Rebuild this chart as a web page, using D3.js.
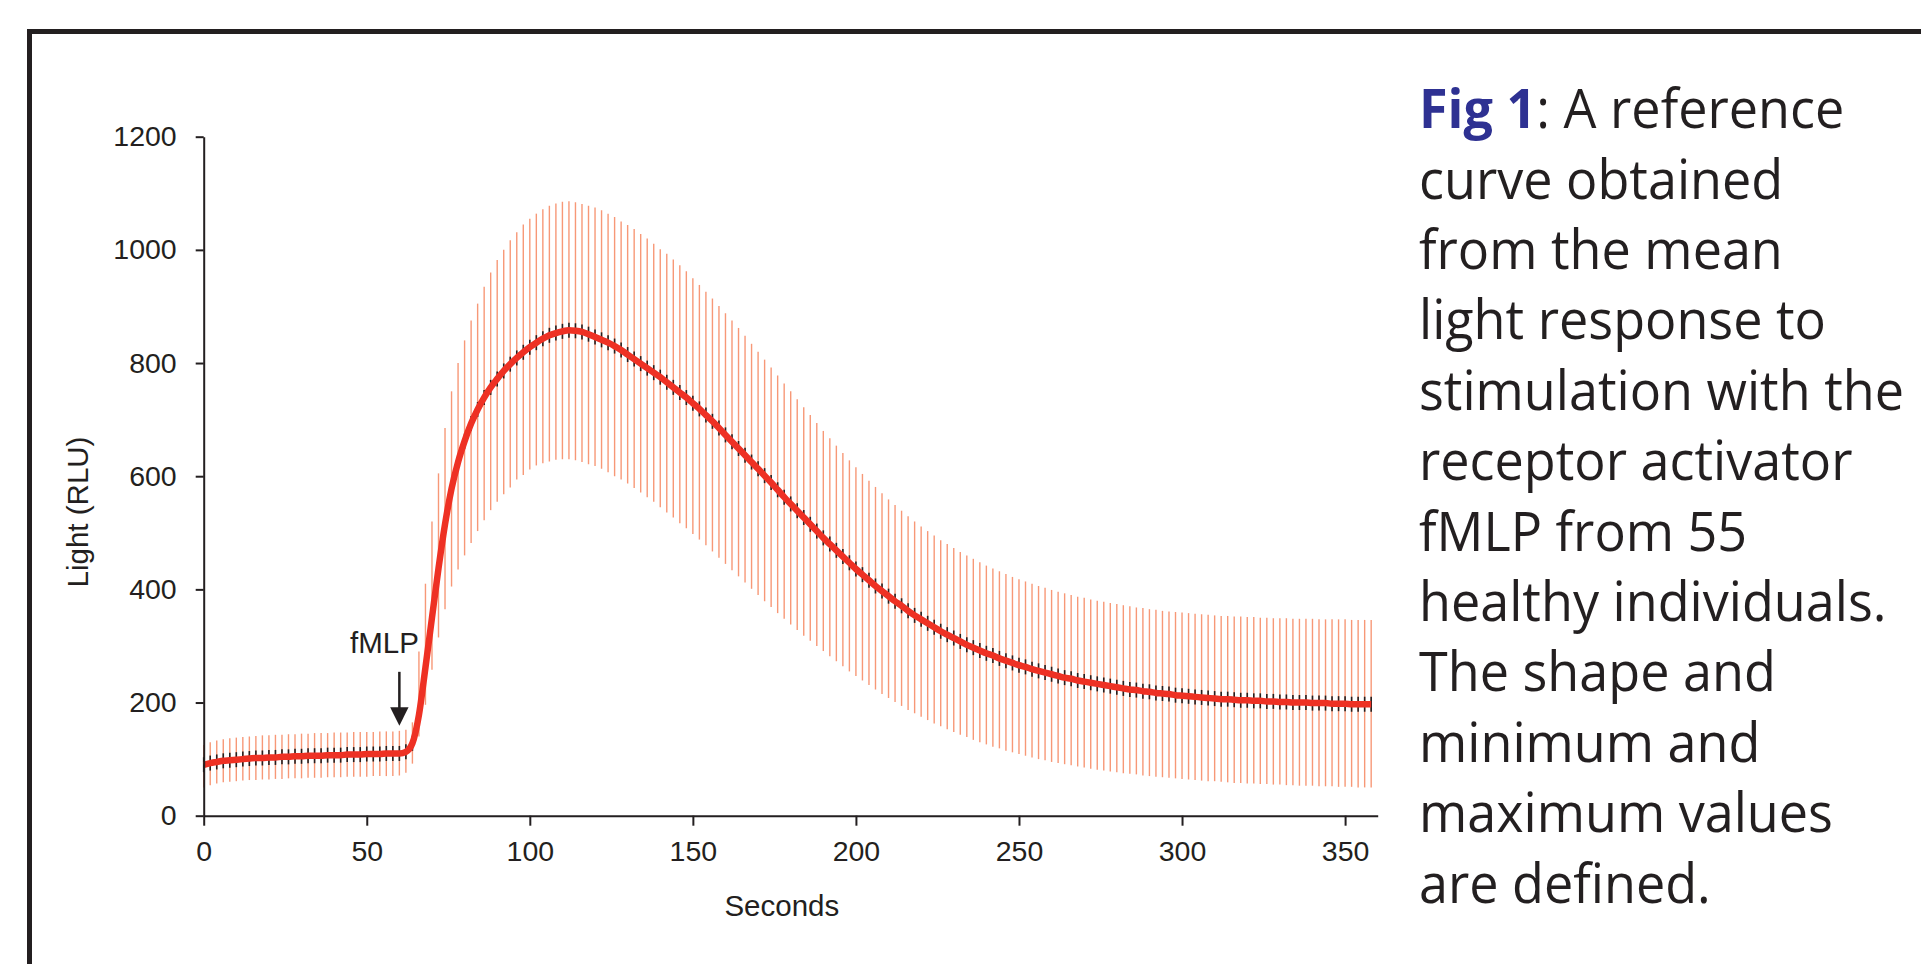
<!DOCTYPE html>
<html>
<head>
<meta charset="utf-8">
<script src="https://cdn.jsdelivr.net/npm/d3@7"></script>
<style>
  html, body { margin: 0; padding: 0; background: #fff; overflow: hidden; }
  #chart svg { display: block; }
  .axis text { font-family: "Liberation Sans", Arial, sans-serif; font-size: 28.5px; fill: #231f20; }
  .axis path, .axis line { stroke: #231f20; stroke-width: 2; }
  .title { font-family: "Liberation Sans", Arial, sans-serif; font-size: 29.5px; fill: #231f20; }
  .caption text { font-family: "Open Sans", "Noto Sans", sans-serif; font-size: 54.6px; fill: #231f20; }
</style>
</head>
<body>
<div id="chart"></div>
<script>
// sample times (s), one bar every 2 s
const timeSec = [
  0, 2, 4, 6, 8, 10, 12, 14, 16, 18, 20, 22, 24, 26, 28, 30, 32, 34, 36, 38,
  40, 42, 44, 46, 48, 50, 52, 54, 56, 58, 60, 62, 64, 66, 68, 70, 72, 74, 76, 78,
  80, 82, 84, 86, 88, 90, 92, 94, 96, 98, 100, 102, 104, 106, 108, 110, 112, 114, 116, 118,
  120, 122, 124, 126, 128, 130, 132, 134, 136, 138, 140, 142, 144, 146, 148, 150, 152, 154, 156, 158,
  160, 162, 164, 166, 168, 170, 172, 174, 176, 178, 180, 182, 184, 186, 188, 190, 192, 194, 196, 198,
  200, 202, 204, 206, 208, 210, 212, 214, 216, 218, 220, 222, 224, 226, 228, 230, 232, 234, 236, 238,
  240, 242, 244, 246, 248, 250, 252, 254, 256, 258, 260, 262, 264, 266, 268, 270, 272, 274, 276, 278,
  280, 282, 284, 286, 288, 290, 292, 294, 296, 298, 300, 302, 304, 306, 308, 310, 312, 314, 316, 318,
  320, 322, 324, 326, 328, 330, 332, 334, 336, 338, 340, 342, 344, 346, 348, 350, 352, 354, 356, 358
];

// mean light (RLU)
const meanRLU = [
  90, 93, 95, 97, 98, 99, 100, 101, 102, 102, 103, 103, 104, 104, 105, 105, 106, 106, 106, 107,
  107, 107, 108, 108, 108, 109, 109, 109, 110, 110, 110, 113, 128, 178, 262, 350, 437, 515, 578, 625,
  662, 693, 718, 739, 757, 772, 786, 798, 809, 819, 828, 836, 843, 849, 853, 856, 858, 857, 855, 851,
  846, 841, 836, 830, 823, 815, 807, 799, 791, 783, 775, 766, 757, 748, 739, 729, 719, 708, 697, 685,
  673, 661, 649, 637, 625, 613, 601, 589, 576, 563, 551, 539, 527, 515, 503, 491, 480, 469, 458, 447,
  436, 426, 416, 406, 397, 388, 379, 371, 362, 354, 347, 340, 333, 326, 320, 314, 308, 302, 297, 292,
  287, 283, 278, 274, 270, 266, 263, 259, 256, 253, 250, 247, 244, 242, 239, 237, 235, 233, 231, 229,
  227, 225, 223, 222, 220, 219, 217, 216, 215, 213, 212, 211, 210, 209, 208, 207, 206, 206, 205, 204,
  204, 203, 203, 202, 202, 201, 201, 200, 200, 200, 199, 199, 199, 198, 198, 198, 197, 197, 197, 197
];

// maximum light (RLU)
const maxRLU = [
  125, 130, 133, 135, 137, 138, 139, 140, 141, 142, 142, 143, 143, 144, 144, 145, 145, 146, 146, 146,
  147, 147, 147, 148, 148, 148, 148, 149, 149, 149, 150, 152, 165, 290, 410, 520, 605, 685, 750, 800,
  840, 875, 905, 935, 960, 982, 1000, 1017, 1031, 1045, 1055, 1064, 1072, 1078, 1082, 1085, 1086, 1084, 1081, 1078,
  1075, 1070, 1064, 1058, 1050, 1044, 1037, 1028, 1020, 1011, 1001, 993, 983, 973, 962, 950, 938, 926, 914, 901,
  888, 875, 862, 848, 834, 820, 806, 792, 778, 764, 750, 736, 722, 708, 694, 680, 667, 654, 641, 628,
  616, 604, 592, 581, 570, 559, 549, 539, 529, 520, 511, 503, 495, 487, 480, 473, 466, 460, 454, 448,
  442, 437, 432, 427, 422, 418, 414, 410, 406, 403, 399, 396, 393, 390, 387, 385, 382, 380, 378, 376,
  374, 372, 370, 368, 367, 365, 364, 362, 361, 360, 359, 358, 357, 356, 355, 354, 353, 353, 352, 352,
  351, 351, 350, 350, 349, 349, 349, 348, 348, 348, 348, 347, 347, 347, 347, 347, 346, 346, 346, 346
];

// minimum light (RLU)
const minRLU = [
  50, 54, 57, 59, 60, 61, 62, 63, 63, 64, 64, 65, 65, 66, 66, 66, 67, 67, 67, 68,
  68, 68, 69, 69, 69, 69, 70, 70, 70, 70, 71, 76, 92, 140, 196, 258, 315, 365, 405, 435,
  460, 482, 503, 522, 540, 555, 568, 580, 594, 602, 612, 619, 623, 626, 629, 630, 630, 628, 625, 621,
  618, 613, 607, 600, 594, 587, 579, 571, 563, 555, 545, 536, 527, 517, 508, 498, 488, 478, 467, 456,
  445, 434, 423, 412, 401, 390, 379, 369, 358, 348, 338, 328, 318, 309, 300, 291, 282, 273, 264, 255,
  247, 239, 231, 223, 215, 208, 201, 194, 187, 181, 175, 169, 163, 158, 153, 148, 143, 139, 134, 130,
  126, 122, 119, 115, 112, 109, 106, 103, 100, 98, 95, 93, 91, 89, 87, 85, 83, 81, 80, 78,
  77, 75, 74, 73, 71, 70, 69, 68, 67, 66, 65, 64, 63, 62, 61, 61, 60, 59, 58, 58,
  57, 57, 56, 56, 55, 55, 54, 54, 53, 53, 53, 52, 52, 52, 51, 51, 51, 50, 50, 50
];

const xTicks = [0, 50, 100, 150, 200, 250, 300, 350];
const yTicks = [0, 200, 400, 600, 800, 1000, 1200];
const xDomain = [0, 360];
const yDomain = [0, 1200];

const xTitle = "Seconds";
const yTitle = "Light (RLU)";

// stimulus marker
const stimulusLabel = "fMLP";
const stimulusTime = 60;

// caption
const captionLead = "Fig 1";
const captionLines = [
  ": A reference",
  "curve obtained",
  "from the mean",
  "light response to",
  "stimulation with the",
  "receptor activator",
  "fMLP from 55",
  "healthy individuals.",
  "The shape and",
  "minimum and",
  "maximum values",
  "are defined."
];

class ReferenceCurve {
  constructor(_parentNodeId) {
    this.container = d3.select(`#${_parentNodeId}`);
    this.data = timeSec.map((t, i) => ({
      t,
      mean: meanRLU[i],
      max: maxRLU[i],
      min: minRLU[i],
    }));
    this.initVis();
  }

  initVis() {
    const width = 1921;
    const height = 964;

    this.svg = this.container
      .append("svg")
      .attr("width", width)
      .attr("height", height);

    //outer frame, cut at right/bottom
    this.svg
      .append("rect")
      .attr("x", 29.5)
      .attr("y", 31.5)
      .attr("width", 2000)
      .attr("height", 1000)
      .attr("fill", "none")
      .attr("stroke", "#231f20")
      .attr("stroke-width", 5);

    //scales
    this.x = d3.scaleLinear().domain(xDomain).range([203.7, 1377.7]);
    this.y = d3.scaleLinear().domain(yDomain).range([815.7, 136.7]);

    this.gBars = this.svg.append("g");
    this.gMarks = this.svg.append("g");
    this.gLine = this.svg.append("g");
    this.gAxis = this.svg.append("g");
    this.gNote = this.svg.append("g");
    this.gCaption = this.svg.append("g").attr("class", "caption");

    this.bars();
    this.meanLine();
    this.axes();
    this.annotation();
    this.caption();
  }

  bars() {
    this.gBars
      .selectAll("line")
      .data(this.data)
      .join("line")
      .attr("x1", (d) => this.x(d.t))
      .attr("x2", (d) => this.x(d.t))
      .attr("y1", (d) => this.y(d.min))
      .attr("y2", (d) => this.y(d.max))
      .attr("stroke", "#f79877")
      .attr("stroke-width", 1.4);
  }

  meanLine() {
    //small black marks at each sample
    this.gMarks
      .selectAll("line")
      .data(this.data)
      .join("line")
      .attr("x1", (d) => this.x(d.t))
      .attr("x2", (d) => this.x(d.t))
      .attr("y1", (d) => this.y(d.mean) - 7.5)
      .attr("y2", (d) => this.y(d.mean) + 7.5)
      .attr("stroke", "#231f20")
      .attr("stroke-width", 1.6);

    const line = d3
      .line()
      .x((d) => this.x(d.t))
      .y((d) => this.y(d.mean))
      .curve(d3.curveMonotoneX);

    this.gLine
      .append("path")
      .datum(this.data)
      .attr("d", line)
      .attr("fill", "none")
      .attr("stroke", "#ee3124")
      .attr("stroke-width", 6.5)
      .attr("stroke-linejoin", "round");
  }

  axes() {
    const xAxis = d3
      .axisBottom(this.x)
      .tickValues(xTicks)
      .tickFormat(d3.format("d"))
      .tickSize(10)
      .tickSizeOuter(0)
      .tickPadding(15.5);

    const yAxis = d3
      .axisLeft(this.y)
      .tickValues(yTicks)
      .tickFormat(d3.format("d"))
      .tickSize(8)
      .tickSizeOuter(0)
      .tickPadding(19);

    this.gAxis
      .append("g")
      .attr("class", "axis")
      .attr("transform", `translate(0,${this.y(0)})`)
      .call(xAxis);

    this.gAxis
      .append("g")
      .attr("class", "axis")
      .attr("transform", `translate(${this.x(0)},0)`)
      .call(yAxis);

    //titles
    this.gAxis
      .append("text")
      .attr("class", "title")
      .attr("text-anchor", "middle")
      .attr("x", 781.8)
      .attr("y", 915.7)
      .text(xTitle);

    this.gAxis
      .append("text")
      .attr("class", "title")
      .attr("text-anchor", "middle")
      .attr("transform", "translate(88,512)rotate(-90)")
      .text(yTitle);
  }

  annotation() {
    const i = timeSec.indexOf(stimulusTime);
    const ax = this.x(stimulusTime);
    const tip = this.y(maxRLU[i]) - 5;

    this.gNote
      .append("line")
      .attr("x1", ax)
      .attr("x2", ax)
      .attr("y1", tip - 54)
      .attr("y2", tip - 16)
      .attr("stroke", "#231f20")
      .attr("stroke-width", 2.5);

    this.gNote
      .append("path")
      .attr("d", `M${ax - 9.2},${tip - 18.5}L${ax + 9.2},${tip - 18.5}L${ax},${tip}Z`)
      .attr("fill", "#231f20");

    this.gNote
      .append("text")
      .attr("class", "title")
      .attr("font-size", 28.5)
      .attr("text-anchor", "end")
      .attr("x", ax + 19.5)
      .attr("y", tip - 72.5)
      .text(stimulusLabel);
  }

  caption() {
    const x0 = 1419;
    const lineStep = 70.4;
    const firstBaseline = 128.3;

    const text = this.gCaption
      .selectAll("text")
      .data(captionLines)
      .join("text")
      .attr("x", 0)
      .attr("y", (d, i) => firstBaseline + i * lineStep);

    text.each(function (d, i) {
      const el = d3.select(this);
      if (i === 0) {
        el.append("tspan")
          .attr("font-weight", 700)
          .attr("fill", "#2e3192")
          .text(captionLead);
      }
      el.append("tspan").text(d);
    });

    //condense to match the narrow caption face
    const nodes = text.nodes();
    const s = (366 / nodes[1].getComputedTextLength() + 405 / nodes[3].getComputedTextLength()) / 2;
    this.gCaption.attr("transform", `translate(${x0},0)scale(${s},1)`);
  }
}

new ReferenceCurve("chart");
</script>
</body>
</html>
